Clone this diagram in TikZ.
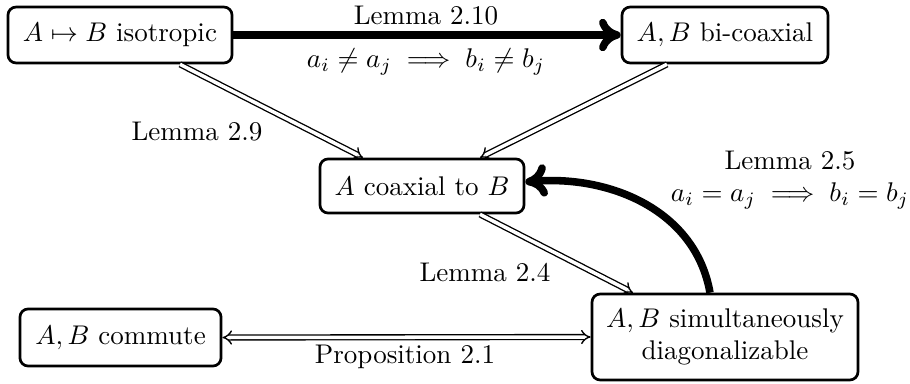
\documentclass[tikz,border=0pt]{standalone}
\usepackage{amsmath,amssymb}
\usetikzlibrary{arrows.meta,calc}
\begin{document}
\begin{tikzpicture}[x=0.37pt,y=0.37pt,
  box/.style={draw, line width=1pt, rounded corners=3pt, align=center, inner sep=2pt},
  impl/.style={double, double distance=1.3pt, line width=0.5pt, -{Implies[scale=1.15]}},
  biimpl/.style={double, double distance=1.3pt, line width=0.5pt, {Implies[scale=1.15]}-{Implies[scale=1.15]}},
  strong/.style={line width=2.8pt, -{Computer Modern Rightarrow[length=8pt,width=12pt]}},
  lbl/.style={inner sep=0pt, align=center}]
\useasboundingbox (0,0) rectangle (910,-383);
\node[box, minimum width=82.9pt, minimum height=20.7pt] (n1) at (120,-35) {$A \mapsto B$ isotropic};
\node[box, minimum width=76.2pt, minimum height=20.7pt] (n2) at (725,-35) {$A,B$ bi-coaxial};
\node[box, minimum width=75.5pt, minimum height=20.0pt] (n3) at (422,-186) {$A$ coaxial to $B$};
\node[box, minimum width=74.4pt, minimum height=21.1pt] (n4) at (120.5,-337.5) {$A,B$ commute};
\node[box, minimum width=98.4pt, minimum height=31.8pt] (n5) at (725,-337) {$A,B$ simultaneously\\ diagonalizable};

\draw[strong] (n1) -- (n2);
\node[lbl] (l210) at (426,-16) {Lemma 2.10};
\node[lbl] (f210) at (426,-62) {$a_i \neq a_j \implies b_i \neq b_j$};

\draw[impl] ($(n1.south)+(60,0)$) -- ($(n3.north)+(-59,0)$);
\node[lbl] (l29) at (197,-132) {Lemma 2.9};
\draw[impl] ($(n2.south)+(-58,0)$) -- ($(n3.north)+(58,0)$);

\draw[impl] ($(n3.south)+(58,0)$) -- ($(n5.north)+(-92,0)$);
\node[lbl] (l24) at (485,-272) {Lemma 2.4};

\draw[strong] ($(n5.north)+(-15,0)$) to[out=100,in=5] ($(n3.east)+(0,4)$);
\node[lbl] (l25) at (790,-180) {Lemma 2.5\\ $a_i = a_j \implies b_i = b_j$};

\draw[biimpl] (n4.east) -- (n5.west);
\node[lbl] (p21) at (405,-357) {Proposition 2.1};
\end{tikzpicture}
\end{document}
